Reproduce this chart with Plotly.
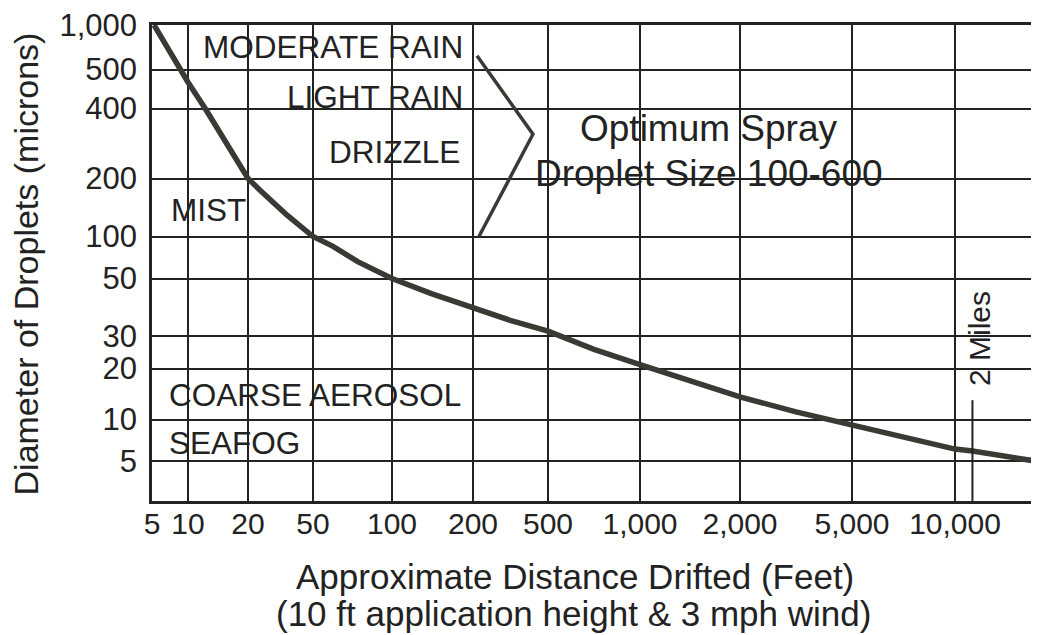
import numpy as np
import plotly.graph_objects as go

# ---------------- data ----------------
x_tick_values = [5, 10, 20, 50, 100, 200, 500, 1000, 2000, 5000, 10000]
x_tick_labels = ["5", "10", "20", "50", "100", "200", "500", "1,000", "2,000", "5,000", "10,000"]
y_tick_values = [5, 10, 20, 30, 50, 100, 200, 400, 500, 1000]
y_tick_labels = ["5", "10", "20", "30", "50", "100", "200", "400", "500", "1,000"]

distance_ft = [5.2, 8.6, 10, 12.2, 20, 23.7, 34.7, 50, 59.6, 74, 100, 140, 200, 315,
               500, 707, 1000, 1414, 2000, 3162, 5000, 7071, 10000, 10560, 12840]
diameter_um = [1000, 500, 465, 400, 200, 174, 129, 100, 85, 66, 50, 43.7, 38.5, 34.5,
               31.3, 25.4, 21, 16.8, 13.6, 11.1, 9.2, 7.4, 6.1, 5.9, 5.0]

bracket_distance_ft = [210, 416, 215]
bracket_diameter_um = [620, 310, 100]

two_miles_ft = 10560
two_miles_top_um = 13

# ---------------- hand-drawn (non-uniform) scale of the original ----------------
X_SCALE_VALUES = [5, 10, 20, 50, 100, 200, 500, 1000, 2000, 5000, 10000, 13000]
X_SCALE_POS = [0, 36, 96, 161, 240, 321, 396, 488, 588, 700, 803, 887]
Y_SCALE_VALUES = [3, 5, 10, 20, 30, 50, 100, 200, 400, 500, 1000]
Y_SCALE_POS = [0, 40, 81.5, 132.5, 165, 222.5, 264.5, 322.5, 392.5, 431.5, 476]


def xs(v):
    return np.interp(np.log(np.asarray(v, float)), np.log(X_SCALE_VALUES), X_SCALE_POS)


def ys(v):
    return np.interp(np.log(np.asarray(v, float)), np.log(Y_SCALE_VALUES), Y_SCALE_POS)


FONT = "Liberation Sans, Arial, sans-serif"
INK = "#222222"
LINE = "#3a3a35"

fig = go.Figure()

fig.add_trace(go.Scatter(x=xs(distance_ft), y=ys(diameter_um), mode="lines",
                         line=dict(color=LINE, width=5.5), showlegend=False,
                         hoverinfo="skip"))
fig.add_trace(go.Scatter(x=xs(bracket_distance_ft), y=ys(bracket_diameter_um), mode="lines",
                         line=dict(color=LINE, width=3.5), showlegend=False,
                         hoverinfo="skip"))
fig.add_trace(go.Scatter(x=xs([two_miles_ft, two_miles_ft]),
                         y=ys([two_miles_top_um, Y_SCALE_VALUES[0]]), mode="lines",
                         line=dict(color=INK, width=2), showlegend=False,
                         hoverinfo="skip"))

ann = []


def add_text(text, x, y, size, xanchor="center", textangle=0, xref="x", yref="y"):
    ann.append(dict(text=text, x=x, y=y, xref=xref, yref=yref, showarrow=False,
                    xanchor=xanchor, yanchor="middle", textangle=textangle,
                    font=dict(family=FONT, size=size, color=INK)))


# positions in plot units (px from left edge / bottom of plotting area)
add_text("MODERATE RAIN", 313, 454, 31.5, xanchor="right")
add_text("LIGHT RAIN", 313, 404, 31.5, xanchor="right")
add_text("DRIZZLE", 310, 349, 31.5, xanchor="right")
add_text("MIST", 17, 291, 31.5, xanchor="left")
add_text("COARSE AEROSOL", 15, 106, 31.5, xanchor="left")
add_text("SEAFOG", 15, 58, 31.5, xanchor="left")
add_text("Optimum Spray", 557, 373, 37)
add_text("Droplet Size 100-600", 557, 328, 37)
add_text("2 Miles", 827, 162, 30, textangle=-90)

# axis titles
add_text("Approximate Distance Drifted (Feet)", 0.477, -0.158, 35, xref="paper", yref="paper")
add_text("(10 ft application height &amp; 3 mph wind)", 0.475, -0.236, 35, xref="paper", yref="paper")
add_text("Diameter of Droplets (microns)", -0.142, 0.497, 34, textangle=-90, xref="paper", yref="paper")

# the page body has an 8px margin: size the figure so the plot lands where the original's does
fig.update_layout(
    width=1031, height=627,
    margin=dict(l=144, r=0, t=17, b=134),
    paper_bgcolor="white", plot_bgcolor="white",
    annotations=ann,
    font=dict(family=FONT, color=INK),
    xaxis=dict(range=[0, 887], tickvals=xs(x_tick_values), ticktext=x_tick_labels,
               showgrid=True, gridcolor=INK, gridwidth=1.5, zeroline=False,
               showline=True, linecolor=INK, linewidth=2.5, mirror=True,
               ticks="", ticklabelstandoff=-6, ticklabeloverflow="allow",
               tickfont=dict(family=FONT, size=30, color=INK), fixedrange=True),
    yaxis=dict(range=[0, 476], tickvals=ys(y_tick_values), ticktext=y_tick_labels,
               showgrid=True, gridcolor=INK, gridwidth=1.5, zeroline=False,
               showline=True, linecolor=INK, linewidth=2.5,
               ticks="", ticklabelstandoff=6, ticklabeloverflow="allow",
               tickfont=dict(family=FONT, size=31, color=INK), fixedrange=True),
)

fig.write_html("out.html")
